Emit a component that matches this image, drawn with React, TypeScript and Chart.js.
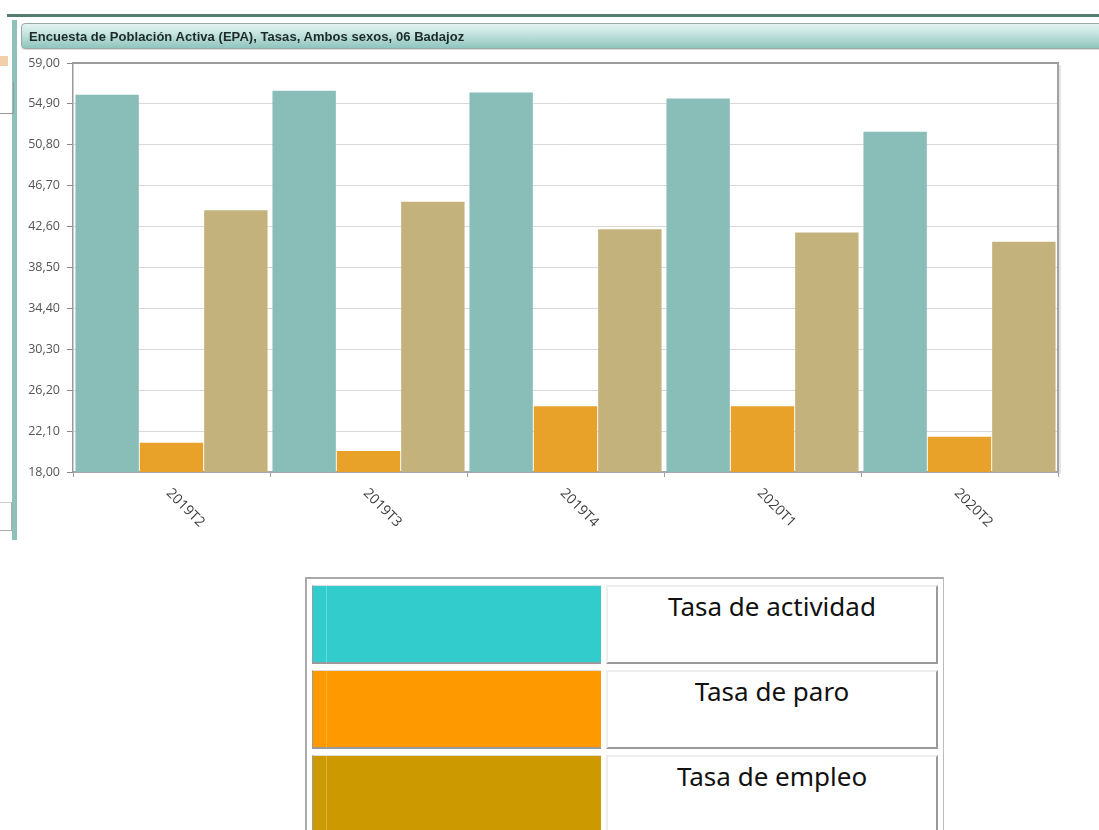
import React, { useEffect, useRef } from "react";
import { Chart, registerables } from "chart.js";

Chart.register(...registerables);

const TITLE = "Encuesta de Población Activa (EPA), Tasas, Ambos sexos, 06 Badajoz";
const categories = ["2019T2", "2019T3", "2019T4", "2020T1", "2020T2"];
const seriesNames = ["Tasa de actividad", "Tasa de paro", "Tasa de empleo"];
const tasaActividad = [55.82, 56.22, 56.05, 55.45, 52.12];
const tasaParo = [20.94, 20.1, 24.6, 24.6, 21.53];
const tasaEmpleo = [44.25, 45.08, 42.33, 42.0, 41.07];
const yTicks = [18.0, 22.1, 26.2, 30.3, 34.4, 38.5, 42.6, 46.7, 50.8, 54.9, 59.0];
const barColors = ["#89bdb8", "#e8a22a", "#c4b27c"];
const legendColors = ["#33cccc", "#ff9900", "#cc9900"];

const framePlugin = {
  id: "frame",
  afterDraw(chart: any) {
    const { ctx, chartArea: a, scales } = chart;
    ctx.save();
    ctx.strokeStyle = "#9c9c9c";
    ctx.lineWidth = 2;
    ctx.beginPath();
    ctx.moveTo(a.left, a.top);
    ctx.lineTo(a.right + 1, a.top);
    ctx.stroke();
    ctx.strokeStyle = "#a2a2a2";
    ctx.lineWidth = 2;
    ctx.beginPath();
    ctx.moveTo(a.right, a.top);
    ctx.lineTo(a.right, a.bottom);
    ctx.stroke();
    ctx.strokeStyle = "rgba(0,0,0,0.10)";
    ctx.lineWidth = 2;
    ctx.beginPath();
    ctx.moveTo(a.right + 2, a.top + 2);
    ctx.lineTo(a.right + 2, a.bottom + 2);
    ctx.stroke();
    ctx.font = '14px "Open Sans"';
    ctx.fillStyle = "#3d3d3d";
    ctx.textAlign = "left";
    ctx.textBaseline = "middle";
    categories.forEach((lab, i) => {
      const x = scales.x.getPixelForValue(i);
      ctx.save();
      ctx.translate(x - 3, a.bottom + 19);
      ctx.rotate(Math.PI / 4);
      ctx.fillText(lab, 0, 0);
      ctx.restore();
    });
    ctx.restore();
  },
};

function BarChart() {
  const ref = useRef<HTMLCanvasElement | null>(null);
  useEffect(() => {
    if (!ref.current) return;
    const chart = new Chart(ref.current, {
      type: "bar",
      data: {
        labels: categories,
        datasets: [tasaActividad, tasaParo, tasaEmpleo].map((d, i) => ({
          label: seriesNames[i],
          data: d,
          backgroundColor: barColors[i],
          borderWidth: 0,
          categoryPercentage: 0.98,
          barPercentage: 0.985,
        })),
      },
      options: {
        animation: false,
        responsive: false,
        layout: { padding: { top: 18, right: 41, left: 0, bottom: 0 } },
        plugins: { legend: { display: false }, tooltip: { enabled: false }, title: { display: false } },
        scales: {
          x: {
            grid: { drawOnChartArea: false, drawTicks: true, tickLength: 5, tickColor: "#a0a0a0", offset: true },
            border: { display: true, color: "#a8a6b6", width: 2 },
            ticks: { display: false },
            afterFit: (s: any) => { s.height = 83; },
          },
          y: {
            min: 18,
            max: 59,
            afterBuildTicks: (s: any) => { s.ticks = yTicks.map((v) => ({ value: v })); },
            grid: { color: "#d9d9d9", tickColor: "#8a8a8a", tickLength: 6, lineWidth: 1 },
            border: { display: true, color: "#999", width: 1.5 },
            ticks: {
              padding: 7,
              color: "#555",
              font: { family: '"Open Sans"', size: 12.5 },
              callback: (v: any) => Number(v).toFixed(2).replace(".", ","),
            },
            afterFit: (s: any) => { s.width = 73; },
          },
        },
      },
      plugins: [framePlugin],
    });
    return () => chart.destroy();
  }, []);
  return (
    <canvas
      ref={ref}
      width={1099}
      height={510}
      style={{ position: "absolute", left: 0, top: 45, width: 1099, height: 510 }}
    />
  );
}

const abs = (l: number, t: number, w: number, h: number, extra: React.CSSProperties = {}): React.CSSProperties => ({
  position: "absolute",
  left: l,
  top: t,
  width: w,
  height: h,
  boxSizing: "border-box",
  ...extra,
});

export default function App() {
  const rowTops = [585, 670, 755];
  return (
    <div style={{ position: "absolute", left: 0, top: 0, width: 1099, height: 830, overflow: "hidden", background: "#fff", fontFamily: '"Noto Sans", sans-serif' }}>
      <BarChart />
      <div style={abs(7, 14, 1092, 3, { background: "#557c70" })} />
      <div style={abs(12, 20, 5, 520, { background: "#8dc1ba" })} />
      <div style={abs(0, 56, 8, 10, { background: "#e8b070", opacity: 0.6 })} />
      <div style={abs(0, 82, 14, 32, { borderRight: "1px solid #999", borderBottom: "1px solid #999" })} />
      <div style={abs(0, 502, 12, 29, { borderRight: "1px solid #aaa", borderTop: "1px solid #ccc", borderBottom: "1px solid #aaa" })} />
      <div
        style={abs(21, 23, 1090, 26, {
          background: "linear-gradient(to bottom, #e4f3f0 0%, #c5e4df 40%, #8fc5bd 100%)",
          border: "1px solid #9aa9a6",
          borderRadius: "4px 0 0 4px",
          boxShadow: "0 1px 1px rgba(0,0,0,0.15)",
        })}
      />
      <div
        style={abs(29, 28, 700, 18, {
          fontFamily: '"Liberation Sans", Arial, sans-serif',
          fontWeight: "bold",
          fontSize: 13,
          lineHeight: "18px",
          letterSpacing: "0.05px",
          color: "#1e2a28",
          whiteSpace: "nowrap",
        })}
      >
        {TITLE}
      </div>
      <div style={abs(305, 577, 639, 260, { borderTop: "2px solid #aaa", borderLeft: "2px solid #aaa", borderRight: "1px solid #bbb" })} />
      {seriesNames.map((name, i) => (
        <React.Fragment key={name}>
          <div
            style={abs(312, rowTops[i], 289, 79, {
              background: legendColors[i],
              borderLeft: "1px solid #9a9a9a",
              borderTop: "1px solid #ddd",
              borderBottom: "2px solid #9a9a9a",
            })}
          >
            <div style={abs(13, 0, 1, 77, { background: "rgba(255,255,255,0.25)" })} />
          </div>
          <div
            style={abs(606, rowTops[i], 332, 79, {
              background: "#fff",
              borderTop: "2px solid #eee",
              borderLeft: "2px solid #eee",
              borderRight: "2px solid #9a9a9a",
              borderBottom: "2px solid #9a9a9a",
            })}
          >
            <div
              style={{
                position: "absolute",
                left: 0,
                right: 0,
                top: 1,
                textAlign: "center",
                fontFamily: '"Noto Sans", sans-serif',
                fontSize: 26,
                color: "#111",
                whiteSpace: "nowrap",
              }}
            >
              {name}
            </div>
          </div>
        </React.Fragment>
      ))}
    </div>
  );
}
